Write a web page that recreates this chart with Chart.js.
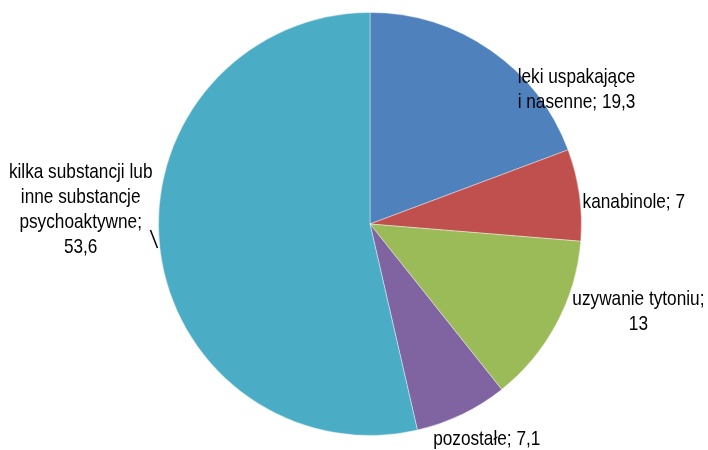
<!DOCTYPE html>
<html>
<head>
<meta charset="utf-8">
<script src="https://cdn.jsdelivr.net/npm/chart.js@4/dist/chart.umd.min.js"></script>
<style>
  html, body { margin: 0; padding: 0; background: #fff; }
  #wrap { width: 708px; height: 450px; }
</style>
</head>
<body>
<div id="wrap"><canvas id="pieChart"></canvas></div>
<script>
const categories = [
  ["leki uspakające", "i nasenne; 19,3"],
  ["kanabinole; 7"],
  ["uzywanie tytoniu;", "13"],
  ["pozostałe; 7,1"],
  ["kilka substancji lub", "inne substancje", "psychoaktywne;", "53,6"]
];
const values = [19.3, 7, 13, 7.1, 53.6];
const colors = ["#4f81bd", "#c0504d", "#9bbb59", "#8064a2", "#4bacc6"];

// first-line baseline anchor relative to pie centre, in radius units
const labelPos = [
  { dx: 0.698, dy: -0.665, align: "left" },
  { dx: 1.005, dy: -0.075, align: "left" },
  { dx: 1.269, dy: 0.382, align: "center" },
  { dx: 0.552, dy: 1.047, align: "center" },
  { dx: -1.368, dy: -0.217, align: "center" }
];

// narrow look: regular sans squeezed horizontally
const squeeze = 0.82;

const pieLabels = {
  id: "pieLabels",
  afterDatasetsDraw(chart) {
    const ctx = chart.ctx;
    const arc = chart.getDatasetMeta(0).data[0];
    const cx = arc.x, cy = arc.y, r = arc.outerRadius;
    ctx.save();
    ctx.font = '21px "Liberation Sans", Arial, sans-serif';
    ctx.fillStyle = "#000";
    ctx.textBaseline = "alphabetic";
    const lh = 25;
    categories.forEach((lines, i) => {
      const p = labelPos[i];
      const x = cx + p.dx * r;
      const y0 = cy + p.dy * r;
      ctx.textAlign = p.align;
      lines.forEach((t, j) => {
        ctx.save();
        ctx.translate(x, y0 + j * lh);
        ctx.scale(squeeze, 1);
        ctx.fillText(t, 0, 0);
        ctx.restore();
      });
    });
    // leader line for the big slice
    ctx.strokeStyle = "#000";
    ctx.lineWidth = 1.5;
    ctx.beginPath();
    ctx.moveTo(cx - 1.038 * r, cy + 0.028 * r);
    ctx.lineTo(cx - 1.005 * r, cy + 0.113 * r);
    ctx.stroke();
    ctx.restore();
  }
};

new Chart(document.getElementById("pieChart").getContext("2d"), {
  type: "pie",
  data: {
    labels: categories.map(l => l.join(" ")),
    datasets: [{
      data: values,
      backgroundColor: colors,
      borderColor: "rgba(255,255,255,0.4)",
      borderWidth: 1
    }]
  },
  options: {
    responsive: true,
    maintainAspectRatio: false,
    animation: false,
    layout: { padding: { left: 32, right: 0, top: 12, bottom: 14 } },
    plugins: {
      legend: { display: false },
      tooltip: { enabled: false }
    }
  },
  plugins: [pieLabels]
});
</script>
</body>
</html>
